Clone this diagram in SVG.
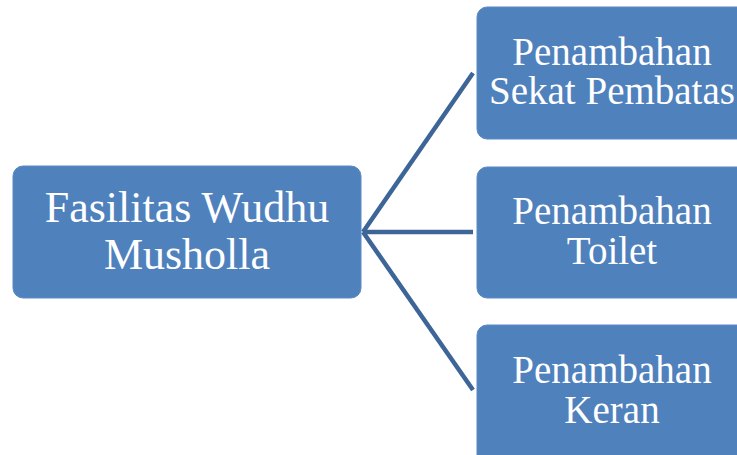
<svg xmlns="http://www.w3.org/2000/svg" width="737" height="455" viewBox="0 0 737 455">
<style>
.box{fill:#4f81bd;stroke:#5a8bc6;stroke-width:1}
.t{font-family:"Liberation Serif","Times New Roman",serif;fill:#ffffff;text-anchor:middle}
.big{font-size:44px}
.sm{font-size:39px}
.c{stroke:#3d6597;stroke-width:4.5;fill:none;stroke-linecap:butt}
</style>
<rect width="737" height="455" fill="#ffffff"/>
<g id="connectors">
<line class="c" x1="363" y1="232" x2="473" y2="73"/>
<line class="c" x1="363" y1="232" x2="473" y2="232"/>
<line class="c" x1="363" y1="232" x2="473" y2="390"/>
</g>
<g id="root">
<rect class="box" x="13" y="166" width="348" height="132" rx="10"/>
<text class="t big" x="187" y="222">Fasilitas Wudhu</text>
<text class="t big" x="187" y="269">Musholla</text>
</g>
<g id="node-sekat">
<rect class="box" x="477" y="7" width="275" height="132" rx="10"/>
<text class="t sm" x="612" y="65">Penambahan</text>
<text class="t sm" x="612" y="104">Sekat Pembatas</text>
</g>
<g id="node-toilet">
<rect class="box" x="477" y="167" width="275" height="131" rx="10"/>
<text class="t sm" x="612" y="224">Penambahan</text>
<text class="t sm" x="612" y="263.5">Toilet</text>
</g>
<g id="node-keran">
<rect class="box" x="477" y="325" width="275" height="140" rx="10"/>
<text class="t sm" x="612" y="383">Penambahan</text>
<text class="t sm" x="612" y="423">Keran</text>
</g>
</svg>
